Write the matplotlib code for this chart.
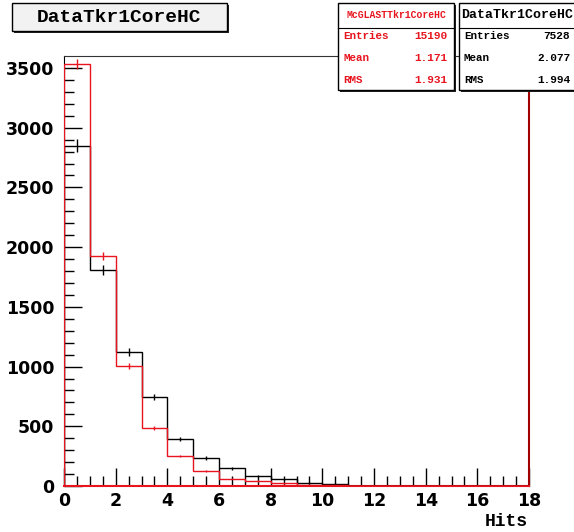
import numpy as np
import matplotlib
matplotlib.use("Agg")
from matplotlib import pyplot as plt
from matplotlib.patches import Rectangle

# bin edges 0..18, one bin per hit count
edges = np.arange(0, 19)
data_counts = [2850, 1810, 1120, 745, 393, 233, 150, 83, 55, 27, 17, 0, 0, 0, 0, 0, 0, 0]
mc_counts = [3532, 1925, 1005, 488, 252, 125, 62, 42, 22, 12, 5, 2, 0, 0, 0, 0, 0, 0]
mc_scale = 7528 / 15190.0

data_stats = [("Entries", "7528"), ("Mean", "2.077"), ("RMS", "1.994")]
mc_stats = [("Entries", "15190"), ("Mean", "1.171"), ("RMS", "1.931")]

RED = "#e8141e"
MONO = "Liberation Mono"

fig = plt.figure(figsize=(5.74, 5.32), dpi=100)
W, H = 574.0, 532.0
ax = fig.add_axes([64 / W, 1 - 486 / H, (529 - 64) / W, (486 - 56) / H])

centers = edges[:-1] + 0.5
data_counts = np.array(data_counts, dtype=float)
mc_counts = np.array(mc_counts, dtype=float)

ax.stairs(data_counts, edges, color="black", lw=1.0, zorder=3)
ax.stairs(mc_counts, edges, color=RED, lw=1.0, zorder=4)

# error bars
derr = np.sqrt(data_counts)
merr = np.sqrt(mc_counts / mc_scale) * mc_scale
ax.vlines(centers, data_counts - derr, data_counts + derr, color="black", lw=1.0, zorder=3)
ax.vlines(centers, mc_counts - merr, mc_counts + merr, color=RED, lw=1.0, zorder=4)

ax.set_xlim(0, 18)
ax.set_ylim(0, 3600)
ax.set_xticks(np.arange(0, 19, 2))
ax.set_xticks(np.arange(0, 18.01, 0.5), minor=True)
ax.set_yticks(np.arange(0, 3501, 500))
ax.set_yticks(np.arange(0, 3600, 100), minor=True)
ax.tick_params(which="major", direction="in", length=13, width=1, top=False, right=False)
ax.tick_params(axis="y", which="major", pad=7)
ax.tick_params(axis="x", which="major", pad=4)
ax.tick_params(which="minor", direction="in", length=7, width=1, top=False, right=False)
for lab in ax.get_xticklabels() + ax.get_yticklabels():
    lab.set_fontfamily("DejaVu Sans")
    lab.set_fontweight("bold")
    lab.set_fontsize(12.5)

ax.spines["left"].set_color("black")
ax.spines["top"].set_color("#333333")
ax.spines["bottom"].set_color(RED)
ax.spines["bottom"].set_linewidth(1.5)
ax.spines["right"].set_color("#a00000")
ax.spines["right"].set_linewidth(1.5)

fig.text(528 / W, 1 - 522 / H, "Hits", ha="right", va="center",
         family=MONO, weight="bold", fontsize=13)


def box(x0, y0, x1, y1, face="white", shadow=2):
    # pixel coords, y measured from top
    fig.patches.append(Rectangle((x0 / W + shadow / W, 1 - (y1 + shadow) / H),
                                 (x1 - x0) / W, (y1 - y0) / H,
                                 transform=fig.transFigure, facecolor="#222222",
                                 edgecolor="none", zorder=9))
    fig.patches.append(Rectangle((x0 / W, 1 - y1 / H), (x1 - x0) / W, (y1 - y0) / H,
                                 transform=fig.transFigure, facecolor=face,
                                 edgecolor="black", lw=1.0, zorder=10))


# title box
box(12, 3, 227, 31, face="#f2f2f2", shadow=2)
fig.text(119 / W, 1 - 17 / H, "DataTkr1CoreHC", ha="center", va="center",
         family=MONO, weight="bold", fontsize=14, zorder=11)


def stat_box(x0, x1, title, rows, color, title_size, tx):
    box(x0, 3, x1, 90, shadow=2)
    fig.lines.append(plt.Line2D([x0 / W, x1 / W], [1 - 28 / H, 1 - 28 / H],
                                transform=fig.transFigure, color="black", lw=0.8, zorder=11))
    fig.text(tx / W, 1 - 15 / H, title, ha="center", va="center",
             family=MONO, weight="bold", fontsize=title_size, color=color, zorder=11)
    for i, (k, v) in enumerate(rows):
        y = 1 - (36 + 22 * i) / H
        fig.text((x0 + 5) / W, y, k, ha="left", va="center", family=MONO,
                 weight="bold", fontsize=7.8, color=color, zorder=11)
        fig.text((x1 - 7) / W, y, v, ha="right", va="center", family=MONO,
                 weight="bold", fontsize=8, color=color, zorder=11)


stat_box(338, 454, "McGLASTTkr1CoreHC", mc_stats, RED, 7.0, 396)
stat_box(459, 577, "DataTkr1CoreHC", data_stats, "black", 9.5, 517)

fig.savefig("out.png", dpi=100)
